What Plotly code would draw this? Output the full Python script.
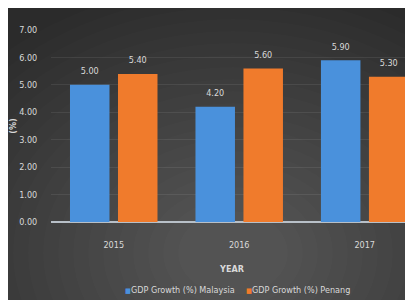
import plotly.graph_objects as go

years = ["2015", "2016", "2017"]
malaysia = [5.00, 4.20, 5.90]
penang = [5.40, 5.60, 5.30]
series_names = ["GDP Growth (%) Malaysia", "GDP Growth (%) Penang"]
y_ticks = [0, 1, 2, 3, 4, 5, 6, 7]
y_tick_labels = ["0.00", "1.00", "2.00", "3.00", "4.00", "5.00", "6.00", "7.00"]

FONT = "DejaVu Sans Condensed, Liberation Sans Narrow, sans-serif"
BLUE, ORANGE = "#4a91dc", "#f07b2c"
TXT = "#d9d9d9"
# figure sits at (8, 8) inside the page because of the default body margin
W, H = 405, 292
L, R, T, B = 43, 0, 22, 78
pw, ph = W - L - R, H - T - B

def label(v):
    # number plus a transparent spacer line to lift the label off the bar
    return (f"<span style='font-size:9px'>{v:.2f}</span><br>"
            "<span style='color:rgba(0,0,0,0)'>.</span>")

fig = go.Figure()
for name, vals, col in [(series_names[0], malaysia, BLUE), (series_names[1], penang, ORANGE)]:
    fig.add_trace(go.Bar(
        x=years, y=vals, name=name,
        marker=dict(color=col, line=dict(width=0)),
        text=[label(v) for v in vals], textposition="outside",
        textfont=dict(color=TXT, size=5, family=FONT), cliponaxis=False,
        showlegend=False,
    ))

def px_x(x):
    return (x - L) / pw
def px_y(y):
    return 1 - (y - T) / ph

# soft radial glow in the background (lighter towards the bottom centre)
cx, cy = 225, 245
shapes = []
for i in range(20):
    rx = 340 - i * 15
    ry = 270 - i * 12
    shapes.append(dict(type="circle", xref="paper", yref="paper",
                       x0=px_x(cx - rx), x1=px_x(cx + rx), y0=px_y(cy + ry), y1=px_y(cy - ry),
                       fillcolor="rgba(255,255,255,0.011)", line=dict(width=0), layer="below"))

# legend drawn as text entries with small coloured squares
annotations = []
for name, col, xl in [(series_names[0], BLUE, 115), (series_names[1], ORANGE, 236)]:
    annotations.append(dict(
        xref="paper", yref="paper", x=px_x(xl), y=px_y(282), xanchor="left", yanchor="middle",
        showarrow=False,
        text=f"<span style='color:{col};font-size:7px'>■</span>{name}",
        font=dict(size=9, color=TXT, family=FONT),
    ))

fig.update_layout(
    width=W, height=H,
    margin=dict(l=L, r=R, t=T, b=B, pad=0, autoexpand=False),
    paper_bgcolor="#2b2b2b", plot_bgcolor="rgba(0,0,0,0)",
    barmode="group", bargap=0.235, bargroupgap=0.177,
    font=dict(family=FONT, color=TXT, size=9),
    showlegend=False,
    shapes=shapes, annotations=annotations,
)
fig.update_xaxes(
    range=[-0.5, 2.385], showgrid=False, zeroline=False, automargin=False,
    showline=False, ticks="outside", ticklen=14, tickcolor="rgba(0,0,0,0)",
    tickfont=dict(size=9, color=TXT, family=FONT),
    title=dict(text="<b>YEAR</b>", font=dict(size=9, color=TXT, family=FONT), standoff=16),
)
fig.update_yaxes(
    range=[0, 7], tickvals=y_ticks, ticktext=y_tick_labels, automargin=False,
    showgrid=True, gridcolor="rgba(255,255,255,0.08)", gridwidth=1,
    zeroline=True, zerolinecolor="#b8c0c8", zerolinewidth=2,
    ticks="outside", ticklen=11, tickcolor="rgba(0,0,0,0)",
    tickfont=dict(size=9, color=TXT, family=FONT),
    title=dict(text="<b>(%)</b>", font=dict(size=9, color=TXT, family=FONT), standoff=12),
)

fig.write_html("out.html")
